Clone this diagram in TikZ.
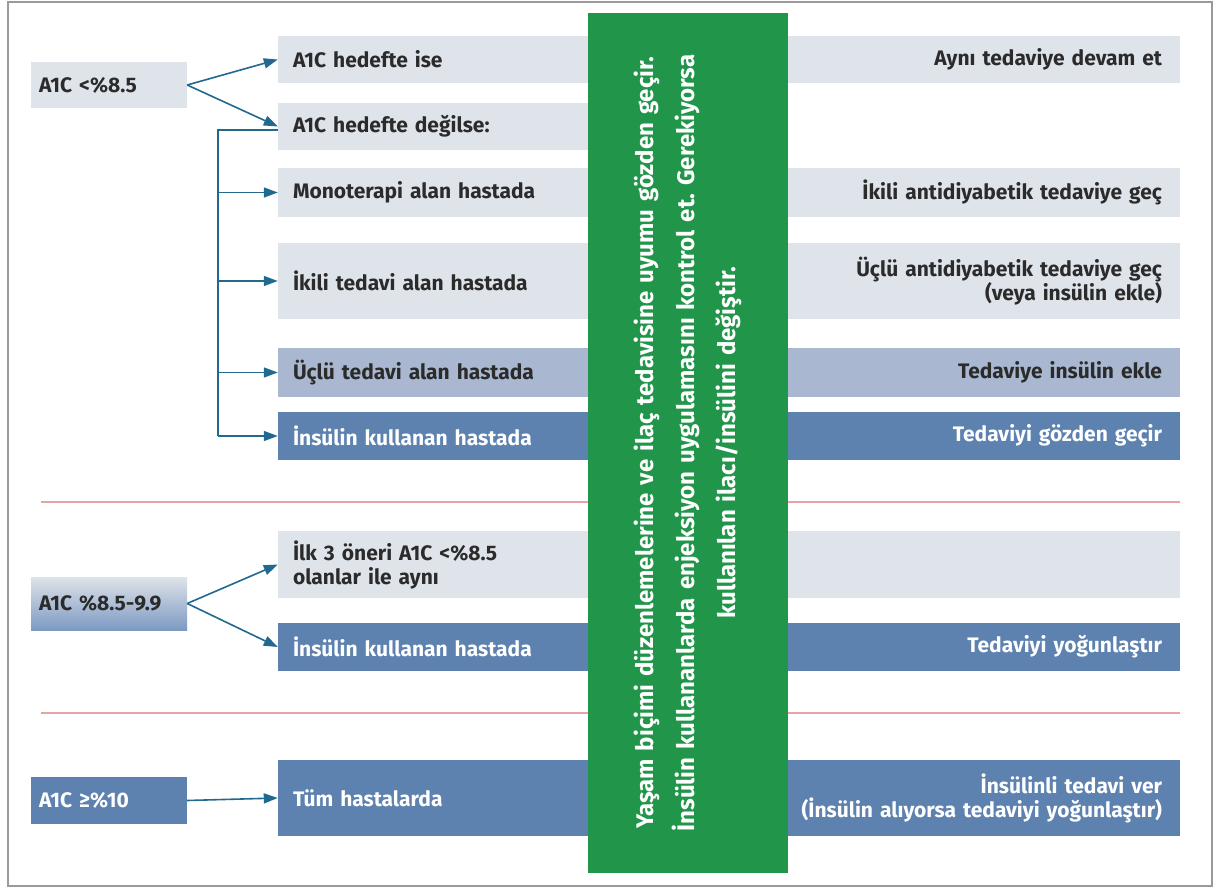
\documentclass[tikz,border=0pt]{standalone}
\usepackage{fontspec}
\setmainfont{Fira Sans}
\usetikzlibrary{arrows.meta,calc}
\definecolor{lightrow}{HTML}{DFE3EA}
\definecolor{midrow}{HTML}{A9B8D0}
\definecolor{darkrow}{HTML}{5E82B0}
\definecolor{gradbot}{HTML}{7D9AC2}
\definecolor{greenbox}{HTML}{21964A}
\definecolor{connc}{HTML}{22698F}
\definecolor{redl}{HTML}{E8A3A3}
\definecolor{framec}{HTML}{9A9A9A}
\definecolor{txt}{HTML}{2B2B2B}
\frenchspacing
\begin{document}
\begin{tikzpicture}[x=1pt,y=-1pt,
  base/.style={rectangle, inner ysep=0pt, text=txt,
    font=\bfseries\fontsize{21}{24}\selectfont},
  lrow/.style={base, minimum width=322pt, inner xsep=15pt, text width=292pt, align=left},
  rrow/.style={base, minimum width=405pt, inner xsep=18pt, text width=369pt, align=right},
  lab/.style={base, minimum width=156pt, inner xsep=8pt, text width=140pt, align=left},
  light/.style={fill=lightrow},
  mid/.style={fill=midrow},
  dark/.style={fill=darkrow, text=white},
  ln/.style={draw=connc, line width=1.6pt},
  arr/.style={ln, -{Triangle[length=14pt,width=10pt]}},
  sep/.style={draw=redl, line width=1.5pt}
]
\useasboundingbox (0,0) rectangle (1220,890);
\fill[white] (0,0) rectangle (1220,890);
\draw[framec, line width=1.8pt] (8,2) rectangle (1212,886);

% separators
\draw[sep] (41,502) -- (1180,502);
\draw[sep] (41,713) -- (1180,713);

% left labels
\node[lab, light, minimum height=46pt] (l1) at (109,85) {A1C <\%8.5};
\node[lab, minimum height=53pt, top color=lightrow, bottom color=gradbot] (l2) at (109,603.5) {A1C \%8.5-9.9};
\node[lab, dark, minimum height=47pt] (l3) at (109,800.5) {A1C ≥\%10};

% left rows
\node[lrow, light, minimum height=47pt] (r1) at (439,59.5) {A1C hedefte ise};
\node[lrow, light, minimum height=47pt] (r2) at (439,126.5) {A1C hedefte değilse:};
\node[lrow, light, minimum height=49pt] (r3) at (439,192.5) {Monoterapi alan hastada};
\node[lrow, light, minimum height=76pt] (r4) at (439,281) {İkili tedavi alan hastada};
\node[lrow, mid, minimum height=49pt] (r5) at (439,372.5) {Üçlü tedavi alan hastada};
\node[lrow, dark, minimum height=48pt] (r6) at (439,436) {İnsülin kullanan hastada};
\node[lrow, light, minimum height=67pt] (r7) at (439,564.5) {İlk 3 öneri A1C <\%8.5\\olanlar ile aynı};
\node[lrow, dark, minimum height=48pt] (r8) at (439,647) {İnsülin kullanan hastada};
\node[lrow, dark, minimum height=76pt] (r9) at (439,798) {Tüm hastalarda};

% right rows
\node[rrow, light, minimum height=47pt] (s1) at (977.5,59.5) {Aynı tedaviye devam et};
\node[rrow, light, minimum height=49pt] (s3) at (977.5,192.5) {İkili antidiyabetik tedaviye geç};
\node[rrow, light, minimum height=76pt] (s4) at (977.5,281) {Üçlü antidiyabetik tedaviye geç\\(veya insülin ekle)};
\node[rrow, mid, minimum height=49pt] (s5) at (977.5,372.5) {Tedaviye insülin ekle};
\node[rrow, dark, minimum height=48pt] (s6) at (977.5,436) {Tedaviyi gözden geçir};
\node[rrow, light, minimum height=67pt] (s7) at (977.5,564.5) {};
\node[rrow, dark, minimum height=48pt] (s8) at (977.5,647) {Tedaviyi yoğunlaştır};
\node[rrow, dark, minimum height=76pt] (s9) at (977.5,798) {İnsülinli tedavi ver\\(İnsülin alıyorsa tedaviyi yoğunlaştır)};

% green central box
\node[rectangle, fill=greenbox, minimum width=200pt, minimum height=860pt, inner sep=0pt] (g) at (688,443) {};
\node[rotate=90, text=white, align=center, text width=856pt, inner sep=0pt,
      font=\bfseries\fontsize{24}{41}\selectfont] (gt) at (g.center)
  {Yaşam biçimi düzenlemelerine ve ilaç tedavisine uyumu gözden geçir.\\
   İnsülin kullananlarda enjeksiyon uygulamasını kontrol et. Gerekiyorsa\\
   kullanılan ilacı/insülini değiştir.};

% connectors
\draw[arr] (l1.east) -- (r1.west);
\draw[arr] (l1.east) -- (r2.west);
\coordinate (j) at (218,130);
\draw[ln] (r2.west |- j) -- (j) -- (j |- r6.west);
\draw[arr] (j |- r3.west) -- (r3.west);
\draw[arr] (j |- r4.west) -- (r4.west);
\draw[arr] (j |- r5.west) -- (r5.west);
\draw[arr] (j |- r6.west) -- (r6.west);
\draw[arr] (l2.east) -- (r7.west);
\draw[arr] (l2.east) -- (r8.west);
\draw[arr] (l3.east) -- (r9.west);
\end{tikzpicture}
\end{document}
